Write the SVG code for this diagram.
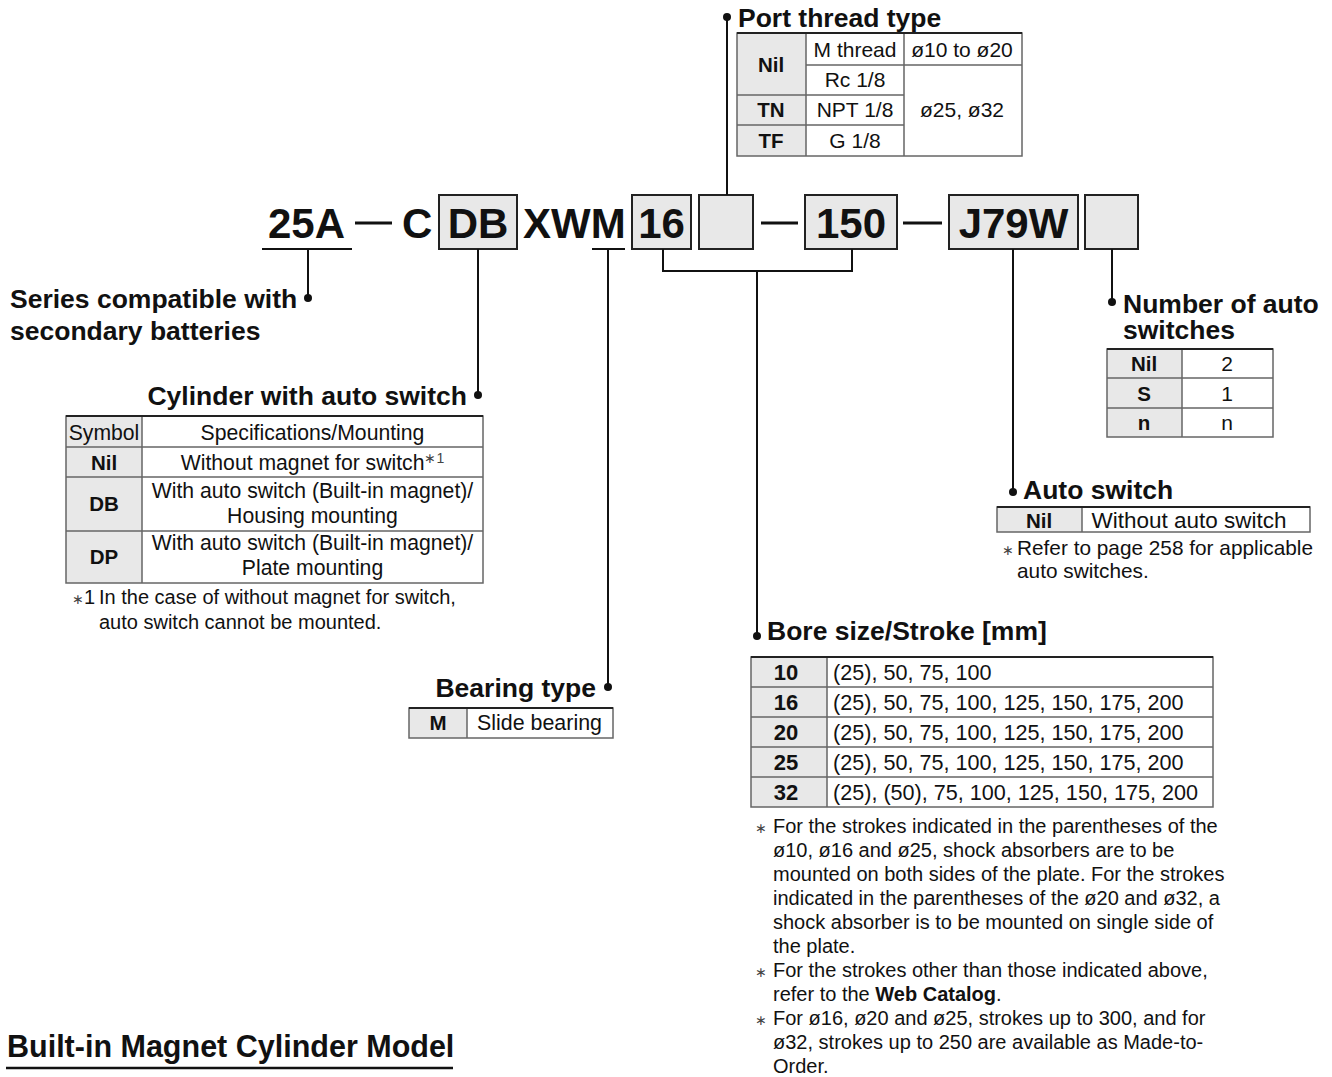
<svg xmlns="http://www.w3.org/2000/svg" width="1332" height="1077" viewBox="0 0 1332 1077">
<style>
text{font-family:"Liberation Sans",Arial,Helvetica,sans-serif;fill:#111}
.code{font-size:42px;font-weight:bold}
.h{font-size:26.5px;font-weight:bold}
.t{font-size:21px}
.tc{font-size:21.2px}
.tv{font-size:21.6px}
.tb{font-size:20.5px;font-weight:bold}
.tn{font-size:22px;font-weight:bold}
.n{font-size:20px}
.ast{font-size:14px;fill:#444}
.m{text-anchor:middle}
.e{text-anchor:end}
.box{fill:#e8e8e8;stroke:#222;stroke-width:2}
.cell{fill:#e8e8e8;stroke:none}
.tbl{fill:none;stroke:#666;stroke-width:1.5}
.top{stroke:#222;stroke-width:2.2}
.grid{stroke:#666;stroke-width:1.5;fill:none}
.con{stroke:#111;stroke-width:2;fill:none}
.dash{stroke:#111;stroke-width:3}
</style>
<defs>
<circle id="dot" r="4" fill="#111"/>
</defs>

<g id="model-code">
<text class="code" x="268" y="238">25A</text>
<line class="dash" x1="355" y1="223" x2="392" y2="223"/>
<text class="code" x="402" y="238">C</text>
<rect class="box" x="439" y="195" width="78" height="54"/>
<text class="code m" x="478" y="238">DB</text>
<text class="code" x="523" y="238">XWM</text>
<rect class="box" x="632" y="195" width="59" height="54"/>
<text class="code m" x="661.5" y="238">16</text>
<rect class="box" x="699" y="195" width="54" height="54"/>
<line class="dash" x1="761" y1="223" x2="798" y2="223"/>
<rect class="box" x="805" y="195" width="92" height="54"/>
<text class="code m" x="851" y="238">150</text>
<line class="dash" x1="903" y1="223" x2="942" y2="223"/>
<rect class="box" x="949" y="195" width="129" height="54"/>
<text class="code m" x="1013.5" y="238">J79W</text>
<rect class="box" x="1085" y="195" width="53" height="54"/>
<line class="con" x1="262" y1="249" x2="352" y2="249"/>
<line class="con" x1="592" y1="249" x2="625" y2="249"/>
</g>

<g id="connectors">
<path class="con" d="M308 249V298"/><use href="#dot" x="308" y="298"/>
<path class="con" d="M478 249V395"/><use href="#dot" x="478" y="395"/>
<path class="con" d="M608 249V687"/><use href="#dot" x="608" y="687"/>
<path class="con" d="M663 249V271H852V249M757 271V636"/><use href="#dot" x="757" y="636"/>
<path class="con" d="M727 195V17"/><use href="#dot" x="727" y="17"/>
<path class="con" d="M1013 249V492"/><use href="#dot" x="1013" y="492"/>
<path class="con" d="M1112 249V302"/><use href="#dot" x="1112" y="302"/>
</g>

<g id="port-thread-type">
<text class="h" x="738" y="27">Port thread type</text>
<rect class="cell" x="737" y="33" width="69" height="123"/>
<rect class="tbl" x="737" y="33" width="285" height="123"/>
<path class="grid" d="M806 33V156M904 33V156M806 65H1022M737 95H904M737 125H904"/>
<line class="top" x1="737" y1="33" x2="1022" y2="33"/>
<text class="tb m" x="771" y="72">Nil</text>
<text class="t m" x="855" y="57">M thread</text>
<text class="t m" x="962" y="57">ø10 to ø20</text>
<text class="t m" x="855" y="87">Rc 1/8</text>
<text class="tb m" x="771" y="117">TN</text>
<text class="t m" x="855" y="117">NPT 1/8</text>
<text class="t m" x="962" y="117">ø25, ø32</text>
<text class="tb m" x="771" y="148">TF</text>
<text class="t m" x="855" y="148">G 1/8</text>
</g>

<g id="series">
<text class="h" x="10" y="308">Series compatible with</text>
<text class="h" x="10" y="340">secondary batteries</text>
</g>

<g id="cylinder-with-auto-switch">
<text class="h e" x="467" y="405">Cylinder with auto switch</text>
<rect class="cell" x="66" y="416" width="76" height="167"/>
<rect class="tbl" x="66" y="416" width="417" height="167"/>
<path class="grid" d="M142 416V583M66 447H483M66 477H483M66 531H483"/>
<line class="top" x1="66" y1="416" x2="483" y2="416"/>
<text class="tc m" x="104" y="440">Symbol</text>
<text class="tc m" x="312.5" y="440">Specifications/Mounting</text>
<text class="tb m" x="104" y="470">Nil</text>
<text class="tc m" x="312.5" y="470">Without magnet for switch<tspan class="ast" dy="-7">∗1</tspan></text>
<text class="tb m" x="104" y="511">DB</text>
<text class="tc m" x="312.5" y="498">With auto switch (Built-in magnet)/</text>
<text class="tc m" x="312.5" y="523">Housing mounting</text>
<text class="tb m" x="104" y="564">DP</text>
<text class="tc m" x="312.5" y="550">With auto switch (Built-in magnet)/</text>
<text class="tc m" x="312.5" y="575">Plate mounting</text>
<text class="n" x="72" y="604"><tspan class="ast">∗</tspan>1</text>
<text class="n" x="99" y="604">In the case of without magnet for switch,</text>
<text class="n" x="99" y="629">auto switch cannot be mounted.</text>
</g>

<g id="bearing-type">
<text class="h e" x="596" y="697">Bearing type</text>
<rect class="cell" x="409" y="708" width="58" height="30"/>
<rect class="tbl" x="409" y="708" width="204" height="30"/>
<path class="grid" d="M467 708V738"/>
<line class="top" x1="409" y1="708" x2="613" y2="708"/>
<text class="tb m" x="438" y="730">M</text>
<text class="m" x="539.5" y="730" font-size="21.4">Slide bearing</text>
</g>

<g id="number-of-auto-switches">
<text class="h" x="1123" y="313">Number of auto<tspan x="1123" dy="26">switches</tspan></text>
<rect class="cell" x="1107" y="349" width="75" height="88"/>
<rect class="tbl" x="1107" y="349" width="166" height="88"/>
<path class="grid" d="M1182 349V437M1107 378H1273M1107 408H1273"/>
<line class="top" x1="1107" y1="349" x2="1273" y2="349"/>
<text class="tb m" x="1144" y="371">Nil</text>
<text class="t m" x="1227" y="371">2</text>
<text class="tb m" x="1144" y="401">S</text>
<text class="t m" x="1227" y="401">1</text>
<text class="tb m" x="1144" y="430">n</text>
<text class="t m" x="1227" y="430">n</text>
</g>

<g id="auto-switch">
<text class="h" x="1023" y="499">Auto switch</text>
<rect class="cell" x="997" y="507" width="85" height="25"/>
<rect class="tbl" x="997" y="507" width="313" height="25"/>
<path class="grid" d="M1082 507V532"/>
<line class="top" x1="997" y1="507" x2="1310" y2="507"/>
<text class="tb m" x="1039" y="528">Nil</text>
<text class="m" x="1189" y="528" font-size="22.5">Without auto switch</text>
<text class="ast" x="1002" y="555">∗</text>
<text x="1017" y="555" font-size="20.8">Refer to page 258 for applicable</text>
<text x="1017" y="578" font-size="20.8">auto switches.</text>
</g>

<g id="bore-size-stroke">
<text class="h" x="767" y="640">Bore size/Stroke [mm]</text>
<rect class="cell" x="751" y="657" width="76" height="150"/>
<rect class="tbl" x="751" y="657" width="462" height="150"/>
<path class="grid" d="M827 657V807M751 687H1213M751 717H1213M751 747H1213M751 777H1213"/>
<line class="top" x1="751" y1="657" x2="1213" y2="657"/>
<text class="tn m" x="786" y="680">10</text>
<text class="tv" x="833" y="680">(25), 50, 75, 100</text>
<text class="tn m" x="786" y="710">16</text>
<text class="tv" x="833" y="710">(25), 50, 75, 100, 125, 150, 175, 200</text>
<text class="tn m" x="786" y="740">20</text>
<text class="tv" x="833" y="740">(25), 50, 75, 100, 125, 150, 175, 200</text>
<text class="tn m" x="786" y="770">25</text>
<text class="tv" x="833" y="770">(25), 50, 75, 100, 125, 150, 175, 200</text>
<text class="tn m" x="786" y="800">32</text>
<text class="tv" x="833" y="800">(25), (50), 75, 100, 125, 150, 175, 200</text>
<text class="ast" x="755" y="833">∗</text>
<text class="n" x="773" y="833">For the strokes indicated in the parentheses of the</text>
<text class="n" x="773" y="857">ø10, ø16 and ø25, shock absorbers are to be</text>
<text class="n" x="773" y="881">mounted on both sides of the plate. For the strokes</text>
<text class="n" x="773" y="905">indicated in the parentheses of the ø20 and ø32, a</text>
<text class="n" x="773" y="929">shock absorber is to be mounted on single side of</text>
<text class="n" x="773" y="953">the plate.</text>
<text class="ast" x="755" y="977">∗</text>
<text class="n" x="773" y="977">For the strokes other than those indicated above,</text>
<text class="n" x="773" y="1001">refer to the <tspan font-weight="bold">Web Catalog</tspan>.</text>
<text class="ast" x="755" y="1025">∗</text>
<text class="n" x="773" y="1025">For ø16, ø20 and ø25, strokes up to 300, and for</text>
<text class="n" x="773" y="1049">ø32, strokes up to 250 are available as Made-to-</text>
<text class="n" x="773" y="1073">Order.</text>
</g>

<g id="title">
<text x="7" y="1057" font-size="30.5" font-weight="bold">Built-in Magnet Cylinder Model</text>
<line x1="6" y1="1068" x2="453" y2="1068" stroke="#111" stroke-width="2.5"/>
</g>
</svg>
